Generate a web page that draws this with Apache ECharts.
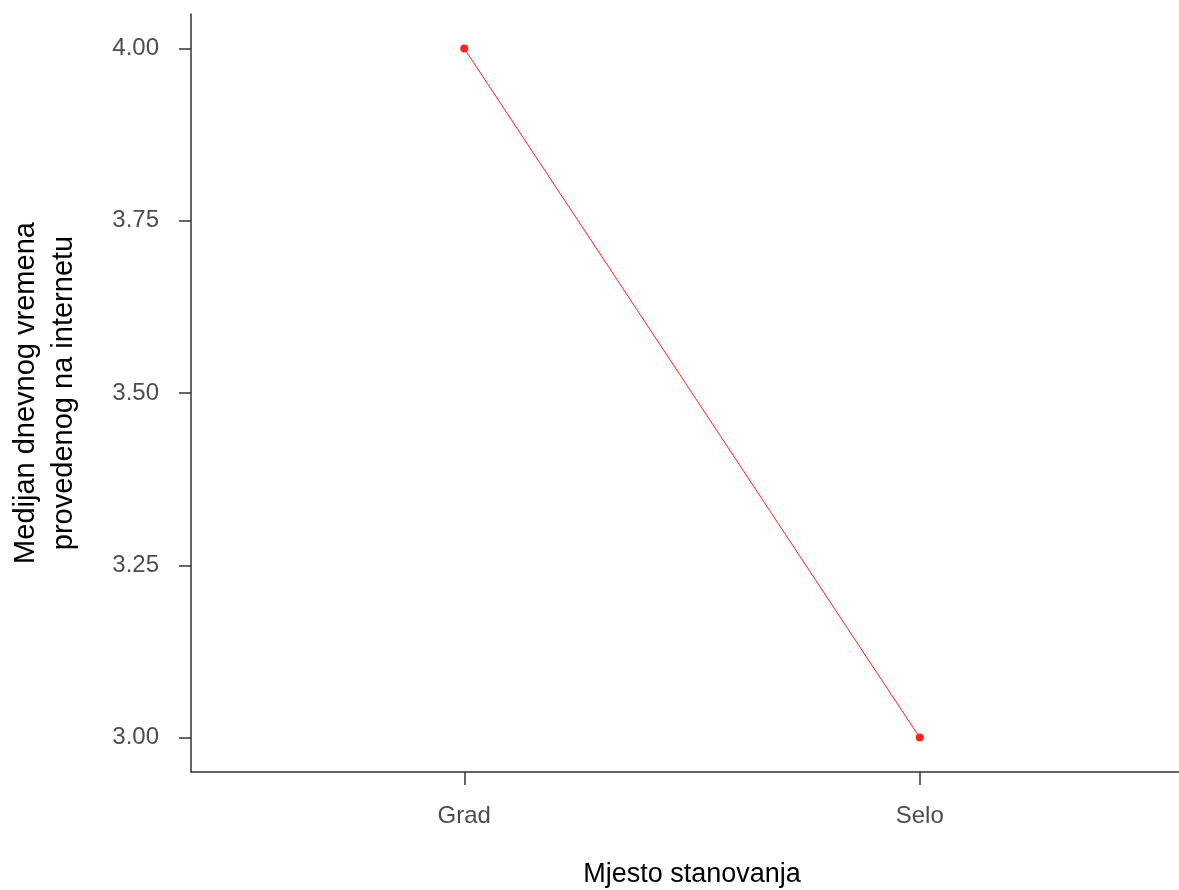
<!DOCTYPE html>
<html>
<head>
<meta charset="utf-8">
<script src="https://cdn.jsdelivr.net/npm/echarts@6/dist/echarts.min.js"></script>
<style>html,body{margin:0;padding:0;background:#fff;}#c{width:1179px;height:890px;}</style>
</head>
<body>
<div id="c"></div>
<script>
const categories = ['Grad', 'Selo'];
const medianValues = [4.00, 3.00];
const yTicks = [3.00, 3.25, 3.50, 3.75, 4.00];
const xTitle = 'Mjesto stanovanja';
const yTitle = 'Medijan dnevnog vremena\nprovedenog na internetu';

const positions = categories.map((c, i) => i + 1);
const seriesData = positions.map((p, i) => [p, medianValues[i]]);

const chart = echarts.init(document.getElementById('c'));
const FONT = '"Liberation Sans", Arial, sans-serif';
chart.setOption({
  animation: false,
  backgroundColor: '#ffffff',
  grid: { left: 191, right: -14, top: 14, bottom: 118, containLabel: false, outerBoundsMode: 'none' },
  xAxis: {
    type: 'value',
    min: 0.4, max: 2.6,
    name: xTitle,
    nameLocation: 'middle',
    nameGap: 89,
    nameTextStyle: { fontFamily: FONT, fontSize: 27, color: '#000' },
    axisLine: { show: true, lineStyle: { color: '#333', width: 1.5 } },
    axisTick: { show: true, length: 13, customValues: positions, lineStyle: { color: '#333', width: 1.5 } },
    axisLabel: {
      customValues: positions,
      margin: 32,
      fontFamily: FONT, fontSize: 24, color: '#4d4d4d',
      formatter: v => categories[Math.round(v) - 1] || ''
    },
    splitLine: { show: false }
  },
  yAxis: {
    type: 'value',
    min: 2.95, max: 4.05,
    name: yTitle,
    nameLocation: 'middle',
    nameRotate: 90,
    nameGap: 108,
    nameTextStyle: { fontFamily: FONT, fontSize: 29, color: '#000', lineHeight: 38, align: 'center' },
    axisLine: { show: true, lineStyle: { color: '#333', width: 1.5 } },
    axisTick: { show: true, length: 12, customValues: yTicks, lineStyle: { color: '#333', width: 1.5 } },
    axisLabel: {
      customValues: yTicks,
      margin: 32,
      fontFamily: FONT, fontSize: 24, color: '#4d4d4d',
      formatter: v => v.toFixed(2)
    },
    splitLine: { show: false }
  },
  series: [{
    type: 'line',
    data: seriesData,
    symbol: 'circle',
    symbolSize: 8,
    itemStyle: { color: '#ff2020' },
    lineStyle: { color: '#ff2020', width: 1 }
  }]
});
</script>
</body>
</html>
